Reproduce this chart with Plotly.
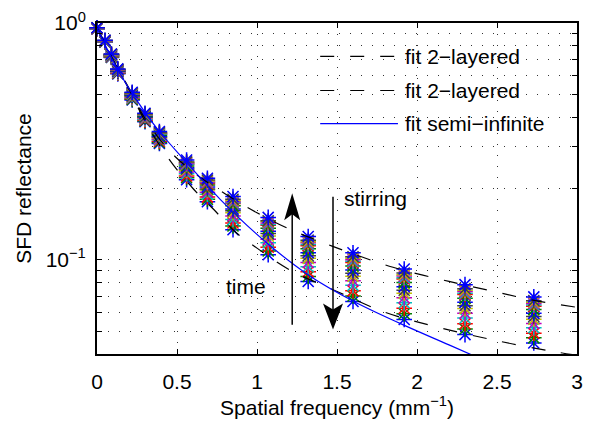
import math
import plotly.graph_objects as go

# Spatial frequencies of the SFD measurement (mm^-1)
spatial_freq = [0, 0.05, 0.09, 0.13, 0.22, 0.30, 0.39, 0.56, 0.69, 0.85, 1.07, 1.32, 1.60, 1.92, 2.30, 2.73]

# Measured SFD reflectance, one list per acquisition (in time order)
run_01 = [0.945, 0.830, 0.715, 0.610, 0.473, 0.383, 0.310, 0.218, 0.176, 0.134, 0.105, 0.0810, 0.0667, 0.0560, 0.0483, 0.0445]
run_02 = [0.946, 0.831, 0.717, 0.613, 0.476, 0.386, 0.313, 0.222, 0.180, 0.139, 0.109, 0.0850, 0.0703, 0.0592, 0.0510, 0.0468]
run_03 = [0.947, 0.833, 0.720, 0.615, 0.480, 0.389, 0.317, 0.226, 0.184, 0.143, 0.113, 0.0890, 0.0740, 0.0624, 0.0537, 0.0490]
run_04 = [0.948, 0.834, 0.722, 0.618, 0.483, 0.392, 0.321, 0.231, 0.189, 0.148, 0.118, 0.0934, 0.0780, 0.0659, 0.0568, 0.0516]
run_05 = [0.949, 0.836, 0.724, 0.621, 0.487, 0.395, 0.324, 0.235, 0.193, 0.153, 0.122, 0.0974, 0.0816, 0.0691, 0.0595, 0.0538]
run_06 = [0.950, 0.837, 0.727, 0.624, 0.490, 0.398, 0.328, 0.239, 0.197, 0.158, 0.126, 0.1014, 0.0852, 0.0723, 0.0622, 0.0561]
run_07 = [0.950, 0.838, 0.728, 0.626, 0.492, 0.400, 0.330, 0.242, 0.199, 0.161, 0.129, 0.1041, 0.0877, 0.0744, 0.0640, 0.0576]
run_08 = [0.951, 0.839, 0.730, 0.628, 0.495, 0.403, 0.332, 0.245, 0.203, 0.164, 0.132, 0.1072, 0.0905, 0.0769, 0.0661, 0.0594]
run_09 = [0.952, 0.840, 0.732, 0.630, 0.498, 0.405, 0.336, 0.249, 0.207, 0.169, 0.136, 0.1112, 0.0941, 0.0801, 0.0688, 0.0616]
run_10 = [0.953, 0.841, 0.734, 0.633, 0.501, 0.408, 0.339, 0.253, 0.210, 0.173, 0.140, 0.1147, 0.0973, 0.0829, 0.0713, 0.0637]
run_11 = [0.953, 0.842, 0.735, 0.634, 0.502, 0.409, 0.340, 0.254, 0.212, 0.174, 0.141, 0.1161, 0.0985, 0.0840, 0.0722, 0.0644]
run_12 = [0.953, 0.842, 0.736, 0.635, 0.504, 0.410, 0.342, 0.256, 0.213, 0.176, 0.143, 0.1179, 0.1001, 0.0854, 0.0734, 0.0654]
run_13 = [0.954, 0.843, 0.737, 0.636, 0.505, 0.411, 0.343, 0.258, 0.215, 0.178, 0.145, 0.1192, 0.1014, 0.0864, 0.0743, 0.0662]
run_14 = [0.954, 0.844, 0.738, 0.637, 0.506, 0.413, 0.344, 0.259, 0.217, 0.180, 0.146, 0.1210, 0.1030, 0.0879, 0.0755, 0.0672]
run_15 = [0.955, 0.845, 0.740, 0.640, 0.510, 0.416, 0.348, 0.264, 0.221, 0.185, 0.151, 0.1254, 0.1070, 0.0914, 0.0785, 0.0697]

runs = [run_01, run_02, run_03, run_04, run_05, run_06, run_07, run_08,
        run_09, run_10, run_11, run_12, run_13, run_14, run_15]

# Classic MATLAB colour order (b, g, r, c, m, y, k)
color_order = ["#0000ff", "#008000", "#ff0000", "#00bfbf", "#bf00bf", "#bfbf00", "#404040"]

# Model fits
fit_2layer_a_freq = [0, 0.1, 0.2, 0.3, 0.45, 0.6, 0.8, 1.0, 1.2, 1.4, 1.6, 1.85, 2.2, 2.5, 2.75, 3.0]
fit_2layer_a_val = [0.955, 0.70, 0.53, 0.395, 0.29, 0.235, 0.19, 0.158, 0.135, 0.119, 0.106, 0.093, 0.081, 0.073, 0.067, 0.063]

fit_2layer_b_freq = [0, 0.1, 0.2, 0.3, 0.45, 0.6, 0.73, 0.86, 1.0, 1.2, 1.5, 1.8, 2.1, 2.5, 2.85, 3.0]
fit_2layer_b_val = [0.955, 0.70, 0.525, 0.385, 0.266, 0.20, 0.163, 0.132, 0.112, 0.091, 0.0735, 0.060, 0.0525, 0.0455, 0.041, 0.0395]

fit_semi_freq = [0, 0.13, 0.25, 0.38, 0.55, 0.77, 1.06, 1.33, 1.6, 1.89, 2.2, 2.5]
fit_semi_val = [0.955, 0.635, 0.47, 0.355, 0.262, 0.18, 0.118, 0.0855, 0.067, 0.054, 0.0437, 0.0356]

legend_labels = ["fit 2\u2212layered", "fit 2\u2212layered", "fit semi\u2212infinite"]

x_ticks = [0, 0.5, 1, 1.5, 2, 2.5, 3]
x_ticktext = ["0", "0.5", "1", "1.5", "2", "2.5", "3"]
y_major = [0.1, 1]
y_major_text = ["10<sup>\u22121</sup>", "10<sup>0</sup>"]
y_minor = [0.04, 0.05, 0.06, 0.07, 0.08, 0.09, 0.2, 0.3, 0.4, 0.5, 0.6, 0.7, 0.8, 0.9]

FONT = "Liberation Sans, Arial, Helvetica, sans-serif"
FS = 21
DASH = "14px,16px"
GRID_DASH = "1px,10px"
GRID_COLOR = "#333333"

fig = go.Figure()

for i, run in enumerate(runs):
    c = color_order[i % len(color_order)]
    fig.add_trace(go.Scatter(
        x=spatial_freq, y=run, mode="markers",
        marker=dict(symbol="asterisk-open", size=13, color=c, line=dict(width=1.5, color=c)),
        cliponaxis=False, showlegend=False, hoverinfo="skip",
    ))

fig.add_trace(go.Scatter(x=fit_2layer_a_freq, y=fit_2layer_a_val, mode="lines",
                         line=dict(color="black", width=1.2, dash=DASH, shape="spline"),
                         name=legend_labels[0], showlegend=False))
fig.add_trace(go.Scatter(x=fit_2layer_b_freq, y=fit_2layer_b_val, mode="lines",
                         line=dict(color="black", width=1.2, dash=DASH, shape="spline"),
                         name=legend_labels[1], showlegend=False))
fig.add_trace(go.Scatter(x=fit_semi_freq, y=fit_semi_val, mode="lines",
                         line=dict(color="#0000ff", width=1.2, shape="spline"),
                         name=legend_labels[2], showlegend=False))

# Legend box drawn in paper coordinates
shapes = []
annotations = []
shapes.append(dict(type="rect", xref="paper", yref="paper", x0=0.44, x1=0.965, y0=0.64, y1=0.95,
                   line=dict(width=0), fillcolor="white", layer="below"))
legend_styles = [dict(color="black", width=1.2, dash=DASH),
                 dict(color="black", width=1.2, dash=DASH),
                 dict(color="#0000ff", width=1.2)]
legend_rows = [0.899, 0.796, 0.696]
for lab, sty, yr in zip(legend_labels, legend_styles, legend_rows):
    shapes.append(dict(type="line", xref="paper", yref="paper", x0=0.465, x1=0.627, y0=yr, y1=yr, line=sty))
    annotations.append(dict(xref="paper", yref="paper", x=0.638, y=yr, text=lab, showarrow=False,
                            xanchor="left", yanchor="middle", font=dict(family=FONT, size=FS, color="black")))

# "time" and "stirring" arrows
time_x, time_lo, time_tip = 1.22, 0.0532, 0.191
stir_x, stir_hi, stir_tip = 1.475, 0.1845, 0.0507
shapes.append(dict(type="line", xref="x", yref="y", x0=time_x, x1=time_x, y0=time_lo, y1=0.17,
                   line=dict(color="black", width=1.5)))
shapes.append(dict(type="path", xref="x", yref="y", xsizemode="pixel", ysizemode="pixel",
                   xanchor=time_x, yanchor=time_tip,
                   path="M0,0 L-8,-27 L0,-21 L8,-27 Z", fillcolor="black", line=dict(width=0)))
shapes.append(dict(type="line", xref="x", yref="y", x0=stir_x, x1=stir_x, y0=stir_hi, y1=0.058,
                   line=dict(color="black", width=1.5)))
shapes.append(dict(type="path", xref="x", yref="y", xsizemode="pixel", ysizemode="pixel",
                   xanchor=stir_x, yanchor=stir_tip,
                   path="M0,0 L-10,26 L0,20 L10,26 Z", fillcolor="black", line=dict(width=0)))

annotations.append(dict(x=0.934, y=math.log10(0.0769), xref="x", yref="y", text="time", showarrow=False,
                        xanchor="center", yanchor="middle", font=dict(family=FONT, size=FS, color="black")))
annotations.append(dict(x=1.7375, y=-0.7426, xref="x", yref="y", text="stirring", showarrow=False,
                        xanchor="center", yanchor="middle", font=dict(family=FONT, size=FS, color="black")))

axis_common = dict(showline=True, linecolor="black", linewidth=2, mirror="ticks",
                   ticks="inside", ticklen=5, tickwidth=1, tickcolor="black",
                   showgrid=True, gridcolor=GRID_COLOR, gridwidth=1, griddash=GRID_DASH,
                   zeroline=False, automargin=False,
                   tickfont=dict(family=FONT, size=FS, color="black"))

fig.update_layout(
    width=590, height=422,
    margin=dict(l=97, r=13, t=23, b=68),
    paper_bgcolor="white", plot_bgcolor="white",
    font=dict(family=FONT, size=FS, color="black"),
    shapes=shapes, annotations=annotations,
    xaxis=dict(range=[0, 3], tickmode="array", tickvals=x_ticks, ticktext=x_ticktext,
               title=dict(text="Spatial frequency (mm<sup>\u22121</sup>)", standoff=7,
                          font=dict(family=FONT, size=FS)),
               ticklabelstandoff=8, **axis_common),
    yaxis=dict(type="log", range=[math.log10(0.04), 0], tickmode="array",
               tickvals=y_major, ticktext=y_major_text,
               minor=dict(tickmode="array", tickvals=y_minor, ticks="inside", ticklen=5,
                          tickwidth=1, tickcolor="black", showgrid=True, gridcolor=GRID_COLOR,
                          gridwidth=1, griddash=GRID_DASH),
               title=dict(text="SFD reflectance", standoff=8, font=dict(family=FONT, size=FS)),
               ticklabelstandoff=5, **axis_common),
)

fig.write_html("out.html", config={"displayModeBar": False})
